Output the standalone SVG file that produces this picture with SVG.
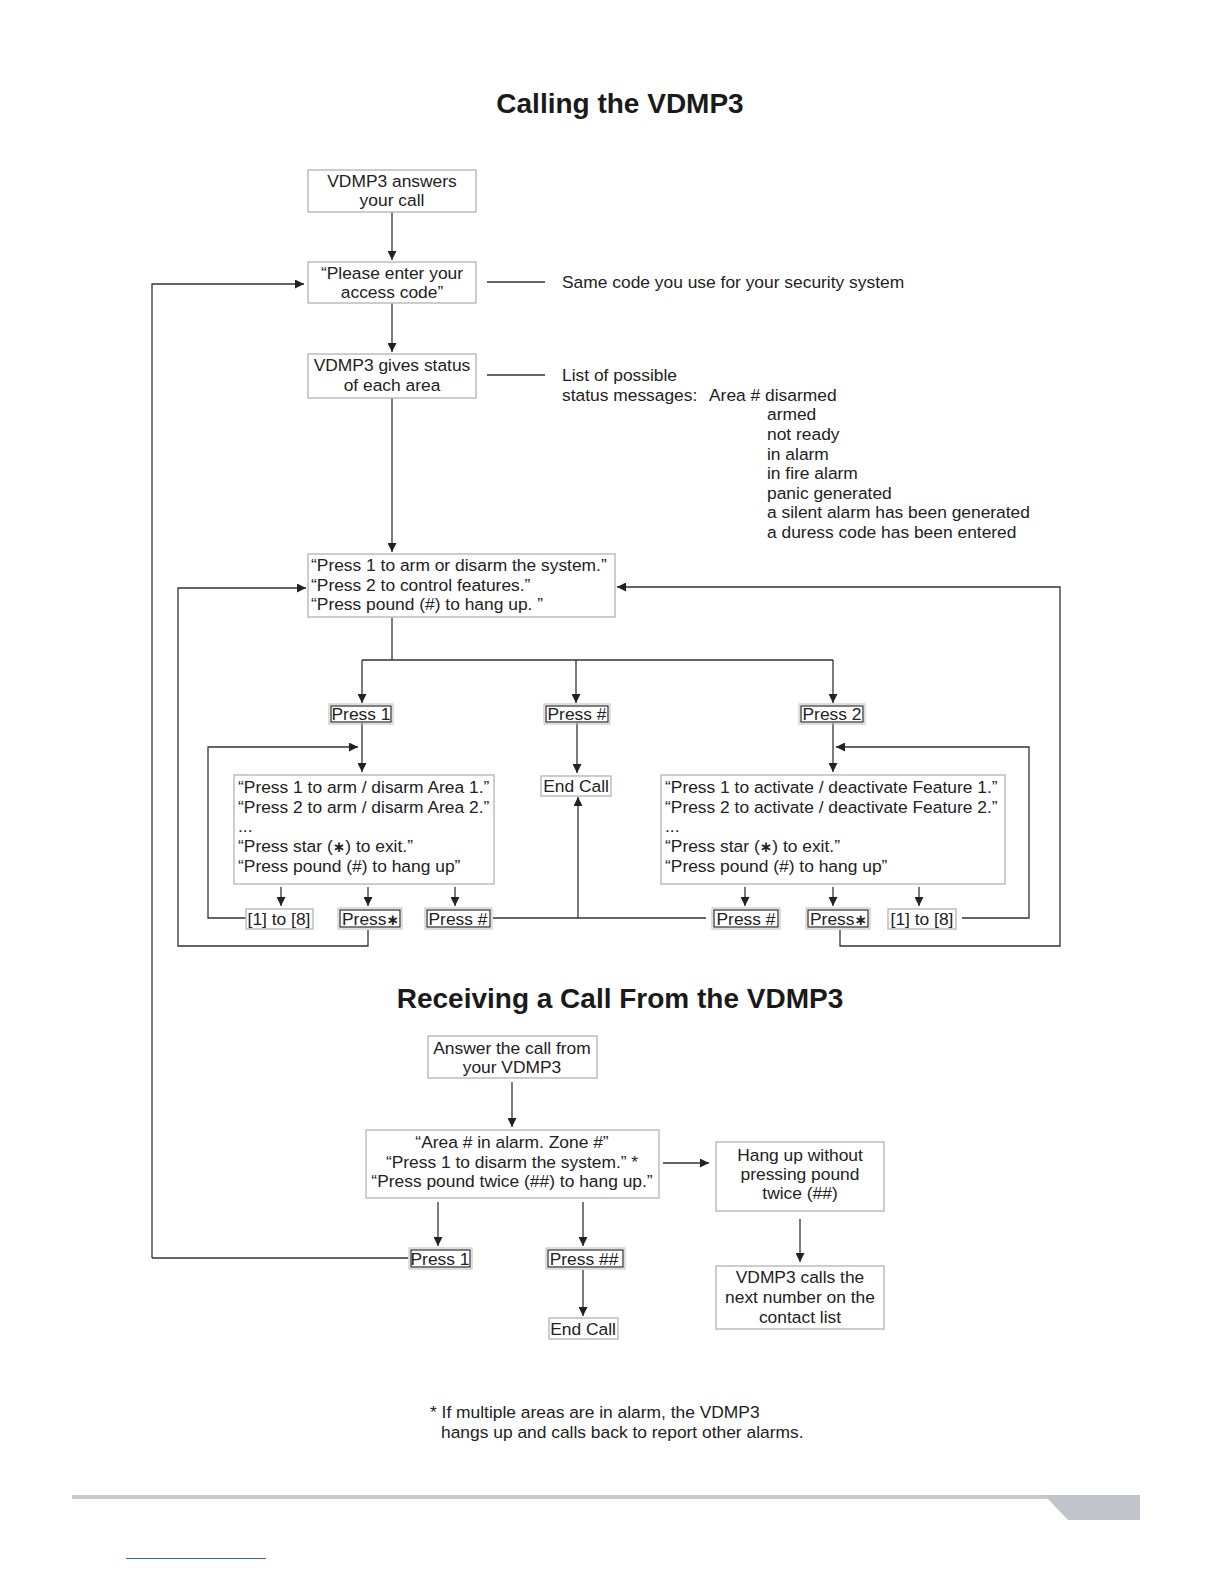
<svg xmlns="http://www.w3.org/2000/svg" width="1224" height="1584" viewBox="0 0 1224 1584">
<defs>
<marker id="ah" viewBox="0 0 10 10" refX="10" refY="5" markerWidth="9" markerHeight="9" markerUnits="userSpaceOnUse" orient="auto">
<path d="M0,0 L10,5 L0,10 Z" fill="#222"/>
</marker>
</defs>
<style>
text{font-family:"Liberation Sans",Arial,sans-serif;font-size:17.4px;fill:#222}
.t{font-size:28px;font-weight:bold;fill:#1a1a1a;text-anchor:middle}
.c{text-anchor:middle}
.box{fill:#fff;stroke:#bdbdbd;stroke-width:1.5}
.key{fill:#fff;stroke:#2a2a2a;stroke-width:1.2}
.keyo{fill:none;stroke:#bdbdbd;stroke-width:1}
.ln{fill:none;stroke:#333;stroke-width:1.3}
.ar{fill:none;stroke:#333;stroke-width:1.3;marker-end:url(#ah)}
.st{font-family:"DejaVu Sans",sans-serif;font-weight:bold;font-size:15px}
</style>
<rect width="1224" height="1584" fill="#fff"/>

<text class="t" x="620" y="113">Calling the VDMP3</text>
<text class="t" x="620" y="1008">Receiving a Call From the VDMP3</text>

<g id="connectors">
<path class="ar" d="M392,212 V260"/>
<path class="ar" d="M392,303 V352"/>
<path class="ar" d="M392,398 V552"/>
<path class="ln" d="M487,282 H545"/>
<path class="ln" d="M487,375 H545"/>
<path class="ar" d="M152,1258 H152 V284 H304"/>
<path class="ln" d="M152,1258 H408"/>
<path class="ln" d="M392,617 V660 M362,660 H833"/>
<path class="ar" d="M362,660 V703"/>
<path class="ar" d="M576,660 V703"/>
<path class="ar" d="M833,660 V703"/>
<path class="ar" d="M362,723 V772"/>
<path class="ar" d="M577,723 V773"/>
<path class="ar" d="M833,723 V772"/>
<path class="ar" d="M246,918 H208 V747 H358"/>
<path class="ar" d="M962,918 H1029 V747 H836"/>
<path class="ar" d="M368,930 V946 H178 V588 H306"/>
<path class="ar" d="M840,930 V946 H1060 V587 H617"/>
<path class="ar" d="M281,887 V906"/>
<path class="ar" d="M368,887 V906"/>
<path class="ar" d="M455,887 V906"/>
<path class="ar" d="M745,887 V906"/>
<path class="ar" d="M833,887 V906"/>
<path class="ar" d="M919,887 V906"/>
<path class="ln" d="M493,918 H706"/>
<path class="ar" d="M578,918 V797"/>
<path class="ar" d="M512,1082 V1127"/>
<path class="ar" d="M663,1163 H709"/>
<path class="ar" d="M800,1219 V1262"/>
<path class="ar" d="M438,1202 V1246"/>
<path class="ar" d="M583,1202 V1246"/>
<path class="ar" d="M583,1270 V1316"/>
</g>

<g id="n1"><rect class="box" x="308" y="170" width="168" height="42"/>
<text class="c" x="392" y="187">VDMP3 answers</text><text class="c" x="392" y="206">your call</text></g>
<g id="n2"><rect class="box" x="308" y="262" width="168" height="41"/>
<text class="c" x="392" y="279">“Please enter your</text><text class="c" x="392" y="298">access code”</text></g>
<g id="note1"><text x="562" y="288">Same code you use for your security system</text></g>
<g id="n3"><rect class="box" x="308" y="354" width="168" height="44"/>
<text class="c" x="392" y="371">VDMP3 gives status</text><text class="c" x="392" y="391">of each area</text></g>
<g id="note2">
<text x="562" y="381">List of possible</text>
<text x="562" y="401">status messages:</text>
<text x="709" y="401">Area # disarmed</text>
<text x="767" y="420">armed</text>
<text x="767" y="440">not ready</text>
<text x="767" y="460">in alarm</text>
<text x="767" y="479">in fire alarm</text>
<text x="767" y="499">panic generated</text>
<text x="767" y="518">a silent alarm has been generated</text>
<text x="767" y="538">a duress code has been entered</text>
</g>
<g id="n4"><rect class="box" x="308" y="554" width="307" height="63"/>
<text x="311" y="571">“Press 1 to arm or disarm the system.”</text>
<text x="311" y="591">“Press 2 to control features.”</text>
<text x="311" y="610">“Press pound (#) to hang up. ”</text></g>

<g id="kp1"><rect class="keyo" x="329" y="704" width="64" height="20"/><rect class="key" x="331" y="706" width="60" height="16"/><text class="c" x="361" y="720">Press 1</text></g>
<g id="kph"><rect class="keyo" x="544" y="704" width="66" height="20"/><rect class="key" x="546" y="706" width="62" height="16"/><text class="c" x="577" y="720">Press #</text></g>
<g id="kp2"><rect class="keyo" x="799" y="704" width="66" height="20"/><rect class="key" x="801" y="706" width="62" height="16"/><text class="c" x="832" y="720">Press 2</text></g>
<g id="end1"><rect class="box" x="541" y="776" width="70" height="20"/><text class="c" x="576" y="792">End Call</text></g>

<g id="n5"><rect class="box" x="234" y="775" width="260" height="109"/>
<text x="238" y="793">“Press 1 to arm / disarm Area 1.”</text>
<text x="238" y="813">“Press 2 to arm / disarm Area 2.”</text>
<text x="238" y="832">...</text>
<text x="238" y="852">“Press star (<tspan class="st">∗</tspan>) to exit.”</text>
<text x="238" y="872">“Press pound (#) to hang up”</text></g>
<g id="n6"><rect class="box" x="661" y="775" width="344" height="109"/>
<text x="665" y="793">“Press 1 to activate / deactivate Feature 1.”</text>
<text x="665" y="813">“Press 2 to activate / deactivate Feature 2.”</text>
<text x="665" y="832">...</text>
<text x="665" y="852">“Press star (<tspan class="st">∗</tspan>) to exit.”</text>
<text x="665" y="872">“Press pound (#) to hang up”</text></g>

<g id="l18"><rect class="box" x="246" y="909" width="67" height="20"/><text class="c" x="279" y="925">[1] to [8]</text></g>
<g id="lstar"><rect class="keyo" x="338" y="908" width="64" height="21"/><rect class="key" x="340" y="910" width="60" height="17"/><text x="342" y="925">Press<tspan class="st">∗</tspan></text></g>
<g id="lhash"><rect class="keyo" x="425" y="908" width="67" height="21"/><rect class="key" x="427" y="910" width="63" height="17"/><text class="c" x="458" y="925">Press #</text></g>
<g id="rhash"><rect class="keyo" x="712" y="908" width="68" height="21"/><rect class="key" x="714" y="910" width="64" height="17"/><text class="c" x="746" y="925">Press #</text></g>
<g id="rstar"><rect class="keyo" x="806" y="908" width="64" height="21"/><rect class="key" x="808" y="910" width="60" height="17"/><text x="810" y="925">Press<tspan class="st">∗</tspan></text></g>
<g id="r18"><rect class="box" x="888" y="909" width="68" height="20"/><text class="c" x="922" y="925">[1] to [8]</text></g>

<g id="n7"><rect class="box" x="428" y="1036" width="169" height="42"/>
<text class="c" x="512" y="1054">Answer the call from</text><text class="c" x="512" y="1073">your VDMP3</text></g>
<g id="n8"><rect class="box" x="366" y="1130" width="293" height="68"/>
<text class="c" x="512" y="1148">“Area # in alarm. Zone #”</text>
<text class="c" x="512" y="1168">“Press 1 to disarm the system.” *</text>
<text class="c" x="512" y="1187">“Press pound twice (##) to hang up.”</text></g>
<g id="n9"><rect class="box" x="716" y="1142" width="168" height="69"/>
<text class="c" x="800" y="1161">Hang up without</text><text class="c" x="800" y="1180">pressing pound</text><text class="c" x="800" y="1199">twice (##)</text></g>
<g id="n10"><rect class="box" x="716" y="1266" width="168" height="63"/>
<text class="c" x="800" y="1283">VDMP3 calls the</text><text class="c" x="800" y="1303">next number on the</text><text class="c" x="800" y="1323">contact list</text></g>
<g id="bp1"><rect class="keyo" x="409" y="1248" width="63" height="21"/><rect class="key" x="411" y="1250" width="59" height="17"/><text class="c" x="440" y="1265">Press 1</text></g>
<g id="bp2"><rect class="keyo" x="546" y="1248" width="79" height="21"/><rect class="key" x="548" y="1250" width="75" height="17"/><text class="c" x="584" y="1265">Press ##</text></g>
<g id="end2"><rect class="box" x="549" y="1318" width="69" height="21"/><text class="c" x="583" y="1335">End Call</text></g>

<text x="430" y="1418">* If multiple areas are in alarm, the VDMP3</text>
<text x="441" y="1438">hangs up and calls back to report other alarms.</text>

<rect x="72" y="1495" width="1068" height="4" fill="#c9c9cc"/>
<path d="M1044,1495 H1140 V1520 H1068 Z" fill="#c1c5cb"/>
<rect x="126" y="1558" width="140" height="1" fill="#3b5cc4"/>
</svg>
